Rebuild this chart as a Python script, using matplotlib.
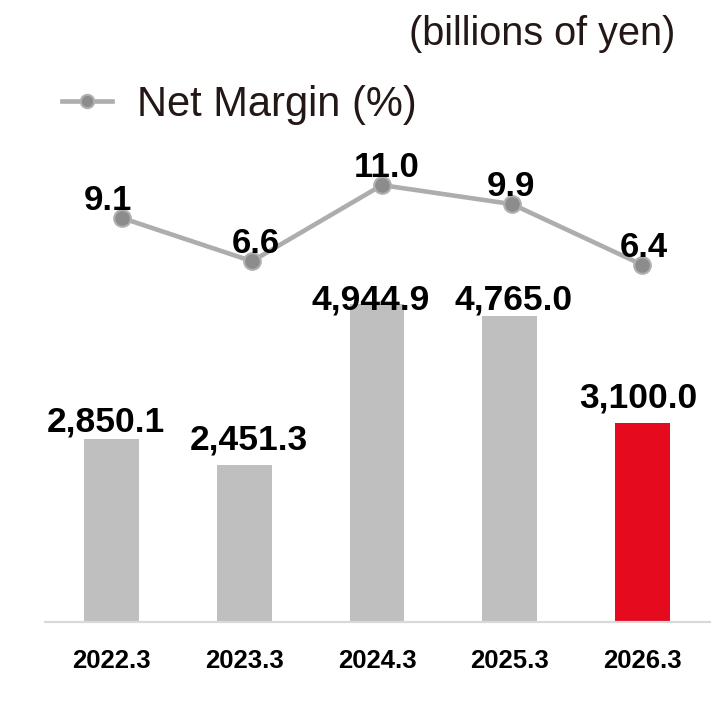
import numpy as np
import matplotlib
matplotlib.use("Agg")
import matplotlib.pyplot as plt

# data
years = ["2022.3", "2023.3", "2024.3", "2025.3", "2026.3"]
net_income = [2850.1, 2451.3, 4944.9, 4765.0, 3100.0]
net_margin = [9.1, 6.6, 11.0, 9.9, 6.4]

# label nudges (pixels) so they sit where the original puts them
bar_lab_dx = [-5.5, 5, -6, 4, -4]
bar_lab_dy = [7, 15, -5, 7, 15]
line_lab_dx = [-14, 4, 5, -1.5, 2]

bar_colors = ["#bfbfbf"] * 4 + ["#e60a1e"]
font = ["Liberation Sans", "DejaVu Sans"]
px = 72 / 100  # points per pixel at dpi 100

fig = plt.figure(figsize=(7.11, 7.02), dpi=100)
W, H = 711, 702

# bars
ax = fig.add_axes([45 / W, (H - 622) / H, 666 / W, 522 / H])
x = np.arange(len(years))
ax.bar(x, net_income, width=0.414, color=bar_colors, zorder=2)
ax.set_xlim(-0.501, 4.516)
ax.set_ylim(0, 522 / 0.06421)
for s in ["top", "left", "right"]:
    ax.spines[s].set_visible(False)
ax.spines["bottom"].set_color("#d9d9d9")
ax.spines["bottom"].set_linewidth(2.2 * px)
ax.set_yticks([])
ax.set_xticks(x)
ax.set_xticklabels(years, fontfamily=font, fontweight="bold", fontsize=18.5)
ax.tick_params(axis="x", length=0, pad=19.5)

for i, v in enumerate(net_income):
    ax.annotate(f"{v:,.1f}", (x[i], v), xytext=(bar_lab_dx[i] * px, bar_lab_dy[i] * px),
                textcoords="offset points", ha="center", va="baseline",
                fontfamily=font, fontweight="bold", fontsize=25.5, color="black")

# net margin line on its own overlay axes
ax2 = fig.add_axes([0, 0, 1, 1])
ax2.set_xlim(-122 / 130, (W - 122) / 130)
ax2.set_ylim((375.4 - H) / 17.3, 375.4 / 17.3)
ax2.axis("off")
ax2.patch.set_alpha(0)
line, = ax2.plot(x, net_margin, color="#adadad", lw=3.3, marker="o", ms=12,
                 mfc="#8c8c8c", mec="#b0b0b0", mew=1.5, label="Net Margin (%)")
for i, v in enumerate(net_margin):
    ax2.annotate(f"{v:.1f}", (x[i], v), xytext=(line_lab_dx[i] * px, 8 * px),
                 textcoords="offset points", ha="center", va="baseline",
                 fontfamily=font, fontweight="bold", fontsize=25, color="black")

leg = ax2.legend(handles=[line], loc="center left", bbox_to_anchor=(62 / W, 1 - 105 / H),
                 bbox_transform=fig.transFigure, frameon=False, borderpad=0,
                 borderaxespad=0, handlelength=1.2, handletextpad=0.6,
                 prop={"family": font, "size": 30}, markerscale=0.8)
for t in leg.get_texts():
    t.set_color("#231815")

fig.text(675 / W, 1 - 34 / H, "(billions of yen)", ha="right", va="center",
         fontfamily=font, fontsize=28.5, color="#231815")

fig.savefig("out.png", dpi=100)
